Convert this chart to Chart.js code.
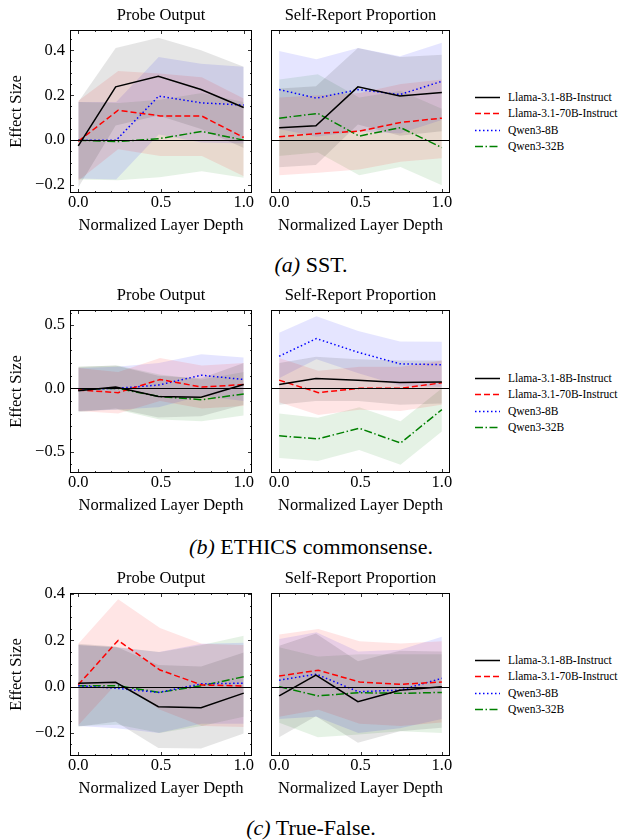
<!DOCTYPE html>
<html>
<head>
<meta charset="utf-8">
<script src="https://cdn.jsdelivr.net/npm/chart.js@4.4.1/dist/chart.umd.min.js"></script>
<style>
  body { margin: 0; background: #fff; width: 622px; height: 840px; position: relative; overflow: hidden;
         font-family: "Liberation Serif", "Times New Roman", serif; color: #000; }
  .pan { position: absolute; }
  .leg { position: absolute; left: 475px; width: 147px; font-size: 11.5px; }
  .leg .item { position: absolute; left: 0; height: 16px; line-height: 16px; white-space: nowrap; }
  .leg svg { position: absolute; left: 0; top: 7px; }
  .leg span { position: absolute; left: 33px; top: 0; }
  .cap { position: absolute; left: 0; width: 622px; text-align: center; font-size: 22px; line-height: 26px; }
</style>
</head>
<body>
<script>
// ---------- Data ----------
const models = ["Llama-3.1-8B-Instruct", "Llama-3.1-70B-Instruct", "Qwen3-8B", "Qwen3-32B"];
// normalized layer depth of each sampled layer, per model
const layerPos = [
  [0, 0.226, 0.484, 0.742, 1],
  [0, 0.241, 0.494, 0.747, 1],
  [0, 0.229, 0.486, 0.743, 1],
  [0, 0.238, 0.492, 0.746, 1],
];
const xTicks = [0, 0.5, 1];

// (a) SST
const sstRange = [-0.235, 0.49];
const sstTicks = [-0.2, 0, 0.2, 0.4];
const sstProbeMean = [
  [-0.025, 0.237, 0.284, 0.225, 0.145],
  [-0.005, 0.133, 0.108, 0.107, 0.012],
  [0.0, 0.0, 0.196, 0.166, 0.156],
  [0.0, -0.006, 0.007, 0.039, 0.0],
];
const sstProbeUp = [
  [0.17, 0.41, 0.456, 0.40, 0.326],
  [0.175, 0.308, 0.296, 0.28, 0.185],
  [0.17, 0.17, 0.37, 0.34, 0.326],
  [0.17, 0.165, 0.18, 0.21, 0.17],
];
const sstProbeLo = [
  [-0.21, 0.065, 0.11, 0.05, -0.035],
  [-0.18, -0.04, -0.07, -0.07, -0.16],
  [-0.17, -0.175, 0.025, -0.01, -0.015],
  [-0.175, -0.178, -0.165, -0.138, -0.167],
];
const sstSelfMean = [
  [0.055, 0.064, 0.237, 0.196, 0.212],
  [0.015, 0.03, 0.04, 0.079, 0.098],
  [0.225, 0.187, 0.225, 0.203, 0.262],
  [0.098, 0.119, 0.018, 0.056, -0.033],
];
const sstSelfUp = [
  [0.23, 0.24, 0.41, 0.37, 0.38],
  [0.19, 0.2, 0.21, 0.25, 0.27],
  [0.397, 0.36, 0.41, 0.373, 0.433],
  [0.27, 0.293, 0.19, 0.22, 0.14],
];
const sstSelfLo = [
  [-0.12, -0.11, 0.07, 0.02, 0.04],
  [-0.156, -0.145, -0.13, -0.096, -0.08],
  [0.05, 0.015, 0.04, 0.03, 0.09],
  [-0.07, -0.055, -0.156, -0.119, -0.2],
];

// (b) ETHICS commonsense
const ethRange = [-0.67, 0.62];
const ethTicks = [-0.5, 0, 0.5];
const ethProbeMean = [
  [-0.02, 0.01, -0.065, -0.07, 0.03],
  [-0.013, -0.034, 0.07, 0.01, 0.03],
  [-0.008, 0.0, 0.026, 0.104, 0.07],
  [-0.008, 0.0, -0.065, -0.09, -0.044],
];
const ethProbeUp = [
  [0.17, 0.18, 0.1, 0.08, 0.2],
  [0.16, 0.13, 0.24, 0.18, 0.2],
  [0.16, 0.17, 0.2, 0.27, 0.245],
  [0.17, 0.18, 0.11, 0.07, 0.13],
];
const ethProbeLo = [
  [-0.19, -0.16, -0.23, -0.22, -0.13],
  [-0.18, -0.2, -0.1, -0.16, -0.14],
  [-0.18, -0.17, -0.15, -0.06, -0.1],
  [-0.18, -0.17, -0.246, -0.26, -0.215],
];
const ethSelfMean = [
  [0.031, 0.078, 0.065, 0.047, 0.05],
  [0.065, -0.034, 0.0, 0.0, 0.044],
  [0.254, 0.394, 0.285, 0.194, 0.187],
  [-0.376, -0.4, -0.316, -0.433, -0.168],
];
const ethSelfUp = [
  [0.2, 0.25, 0.23, 0.22, 0.22],
  [0.24, 0.14, 0.17, 0.17, 0.22],
  [0.44, 0.57, 0.453, 0.37, 0.368],
  [-0.2, -0.233, -0.15, -0.26, 0.0],
];
const ethSelfLo = [
  [-0.13, -0.1, -0.1, -0.13, -0.12],
  [-0.11, -0.21, -0.17, -0.18, -0.13],
  [0.08, 0.23, 0.12, 0.02, 0.01],
  [-0.552, -0.575, -0.487, -0.604, -0.342],
];

// (c) True-False
const tfRange = [-0.30, 0.405];
const tfTicks = [-0.2, 0, 0.2, 0.4];
const tfProbeMean = [
  [0.015, 0.019, -0.087, -0.091, -0.028],
  [0.008, 0.2, 0.072, 0.007, 0.003],
  [0.004, -0.007, -0.025, 0.012, 0.015],
  [0.004, 0.004, -0.025, 0.004, 0.043],
];
const tfProbeUp = [
  [0.185, 0.174, 0.094, 0.087, 0.148],
  [0.185, 0.378, 0.254, 0.185, 0.18],
  [0.18, 0.17, 0.15, 0.185, 0.19],
  [0.18, 0.17, 0.15, 0.18, 0.22],
];
const tfProbeLo = [
  [-0.174, -0.152, -0.265, -0.268, -0.203],
  [-0.167, 0.02, -0.1, -0.17, -0.175],
  [-0.17, -0.18, -0.2, -0.16, -0.16],
  [-0.17, -0.165, -0.2, -0.17, -0.13],
];
const tfSelfMean = [
  [-0.04, 0.05, -0.065, -0.016, 0.0],
  [0.046, 0.071, 0.02, 0.01, 0.02],
  [0.028, 0.054, -0.022, -0.015, 0.036],
  [0.0, -0.04, -0.026, -0.029, -0.025],
];
const tfSelfUp = [
  [0.177, 0.23, 0.11, 0.155, 0.152],
  [0.225, 0.249, 0.196, 0.187, 0.196],
  [0.206, 0.235, 0.152, 0.16, 0.216],
  [0.17, 0.13, 0.14, 0.14, 0.14],
];
const tfSelfLo = [
  [-0.219, -0.128, -0.243, -0.193, -0.178],
  [-0.13, -0.1, -0.16, -0.17, -0.155],
  [-0.14, -0.13, -0.2, -0.18, -0.14],
  [-0.156, -0.219, -0.207, -0.193, -0.2],
];

// ---------- Styles ----------
const SERIF = "'Liberation Serif', 'Times New Roman', serif";
const FONT_SIZE = 16.5;
const lineColors = ["#000000", "#ff0000", "#0000ff", "#008000"];
const bandColors = ["rgba(0,0,0,0.1)", "rgba(255,0,0,0.1)", "rgba(0,0,255,0.1)", "rgba(0,128,0,0.1)"];
const dashes = [[], [6, 3], [1.5, 2.5], [8, 2.5, 1.5, 2.5]];

// panel title, frame, inward ticks and the y = 0 line
const framePlugin = {
  id: "frame",
  afterDatasetsDraw(chart, args, opts) {
    const { ctx, chartArea: a, scales: { x, y } } = chart;
    ctx.save();
    ctx.strokeStyle = "#000";
    ctx.setLineDash([]);
    const seg = (x1, y1, x2, y2) => { ctx.beginPath(); ctx.moveTo(x1, y1); ctx.lineTo(x2, y2); ctx.stroke(); };

    ctx.lineWidth = 1.1;
    const y0 = Math.round(y.getPixelForValue(0)) + 0.5;
    seg(a.left, y0, a.right, y0);

    ctx.lineWidth = 0.8;
    // x ticks, top and bottom
    for (let k = 0; k <= 10; k++) {
      const v = k / 10;
      const major = xTicks.some(t => Math.abs(t - v) < 1e-9);
      const len = major ? 4 : 2;
      const px = Math.round(x.getPixelForValue(v)) + 0.5;
      seg(px, a.bottom, px, a.bottom - len);
      seg(px, a.top, px, a.top + len);
    }
    // y ticks, left and right (left panels only)
    if (opts.showY) {
      const step = opts.minor;
      for (let v = Math.ceil(y.min / step) * step; v <= y.max + 1e-9; v += step) {
        const major = opts.ticks.some(t => Math.abs(t - v) < 1e-6);
        const len = major ? 4 : 2;
        const py = Math.round(y.getPixelForValue(v)) + 0.5;
        seg(a.left, py, a.left + len, py);
        seg(a.right, py, a.right - len, py);
      }
    }
    ctx.lineWidth = 1;
    ctx.strokeRect(a.left + 0.5, a.top + 0.5, a.width - 1, a.height - 1);

    // title centred over the plot area
    ctx.fillStyle = "#000";
    ctx.font = `${FONT_SIZE}px ${SERIF}`;
    ctx.textAlign = "center";
    ctx.textBaseline = "middle";
    ctx.fillText(opts.title, (a.left + a.right) / 2, a.top - 14);
    ctx.restore();
  },
};

function makePanel(p) {
  const wrap = document.createElement("div");
  wrap.className = "pan";
  const left = p.first ? 0 : 266;
  const w = p.first ? 262 : 194;
  wrap.style.cssText = `left:${left}px;top:${p.top}px;width:${w}px;height:238px`;
  const cv = document.createElement("canvas");
  wrap.appendChild(cv);
  document.body.appendChild(wrap);

  const ds = [];
  models.forEach((m, i) => {
    ds.push({
      label: m,
      data: layerPos[i].map((x, j) => ({ x, y: p.mean[i][j] })),
      borderColor: lineColors[i],
      borderWidth: 1.5,
      borderDash: dashes[i],
      pointRadius: 0,
      tension: 0,
      fill: false,
    });
  });
  models.forEach((m, i) => {
    ds.push({
      label: m + " upper",
      data: layerPos[i].map((x, j) => ({ x, y: p.up[i][j] })),
      borderWidth: 0,
      borderColor: "rgba(0,0,0,0)",
      backgroundColor: bandColors[i],
      pointRadius: 0,
      fill: "+1",
    });
    ds.push({
      label: m + " lower",
      data: layerPos[i].map((x, j) => ({ x, y: p.lo[i][j] })),
      borderWidth: 0,
      borderColor: "rgba(0,0,0,0)",
      pointRadius: 0,
      fill: false,
    });
  });

  const font = { family: SERIF, size: FONT_SIZE, weight: "normal" };
  new Chart(cv, {
    type: "line",
    data: { datasets: ds },
    plugins: [framePlugin],
    options: {
      responsive: true,
      maintainAspectRatio: false,
      animation: false,
      events: [],
      layout: { padding: { top: 30, right: 10, bottom: 0, left: 0 } },
      plugins: {
        legend: { display: false },
        tooltip: { enabled: false },
        title: { display: false },
        frame: { showY: p.first, ticks: p.ticks, minor: p.minor, title: p.title },
      },
      scales: {
        x: {
          type: "linear",
          min: -0.05,
          max: 1.05,
          afterBuildTicks: s => { s.ticks = xTicks.map(v => ({ value: v })); },
          ticks: { color: "#000", font, padding: 0, maxRotation: 0, callback: v => v.toFixed(1) },
          grid: { display: false, drawTicks: false },
          border: { display: false },
          title: { display: true, text: "Normalized Layer Depth", color: "#000", font, padding: { top: 0, bottom: 2 } },
          afterFit: s => { s.height = 45; },
        },
        y: {
          type: "linear",
          min: p.range[0],
          max: p.range[1],
          afterBuildTicks: s => { s.ticks = p.ticks.map(v => ({ value: v })); },
          ticks: { display: p.first, color: "#000", font, padding: 5, callback: v => v.toFixed(1).replace("-", "\u2212") },
          grid: { display: false, drawTicks: false },
          border: { display: false },
          title: { display: p.first, text: "Effect Size", color: "#000", font, padding: { top: 7, bottom: 0 } },
          afterFit: s => { s.width = p.first ? 70 : 5; },
        },
      },
    },
  });
}

const rows = [
  { top: 0, range: sstRange, ticks: sstTicks, minor: 0.05,
    probe: [sstProbeMean, sstProbeUp, sstProbeLo], self: [sstSelfMean, sstSelfUp, sstSelfLo],
    legendY: 97, caption: ["(a)", "SST."], capY: 265 },
  { top: 280, range: ethRange, ticks: ethTicks, minor: 0.1,
    probe: [ethProbeMean, ethProbeUp, ethProbeLo], self: [ethSelfMean, ethSelfUp, ethSelfLo],
    legendY: 378, caption: ["(b)", "ETHICS commonsense."], capY: 547 },
  { top: 563, range: tfRange, ticks: tfTicks, minor: 0.05,
    probe: [tfProbeMean, tfProbeUp, tfProbeLo], self: [tfSelfMean, tfSelfUp, tfSelfLo],
    legendY: 660, caption: ["(c)", "True-False."], capY: 828 },
];

function legendSample(i) {
  const d = dashes[i].length ? `stroke-dasharray="${dashes[i].join(" ")}"` : "";
  return `<svg width="26" height="3"><line x1="0" y1="1.5" x2="25" y2="1.5" stroke="${lineColors[i]}" stroke-width="1.5" ${d}/></svg>`;
}

rows.forEach(r => {
  makePanel({ first: true, top: r.top, title: "Probe Output", range: r.range, ticks: r.ticks, minor: r.minor,
    mean: r.probe[0], up: r.probe[1], lo: r.probe[2] });
  makePanel({ first: false, top: r.top, title: "Self-Report Proportion", range: r.range, ticks: r.ticks, minor: r.minor,
    mean: r.self[0], up: r.self[1], lo: r.self[2] });

  const leg = document.createElement("div");
  leg.className = "leg";
  leg.style.top = (r.legendY - 8) + "px";
  leg.innerHTML = models.map((m, i) =>
    `<div class="item" style="top:${(i * 16.3).toFixed(1)}px">${legendSample(i)}<span>${m}</span></div>`).join("");
  document.body.appendChild(leg);

  const cap = document.createElement("div");
  cap.className = "cap";
  cap.style.top = (r.capY - 13) + "px";
  cap.innerHTML = `<i>${r.caption[0]}</i> ${r.caption[1]}`;
  document.body.appendChild(cap);
});
</script>
</body>
</html>
